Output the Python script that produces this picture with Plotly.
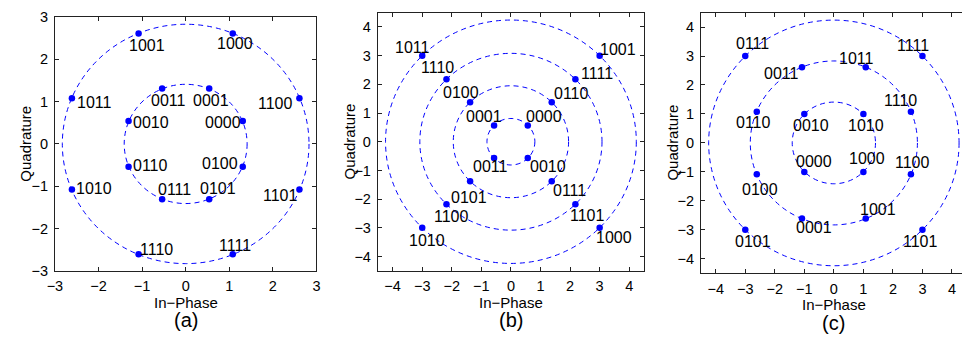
import plotly.graph_objects as go

W, H = 966, 342

# ---------------- data ----------------
# panel (a)
a_labels = ["1001", "1000", "1011", "1100", "0011", "0001", "0010", "0000",
            "0110", "0100", "1010", "1101", "0111", "0101", "1110", "1111"]
a_x = [-1.08, 1.08, -2.61, 2.61, -0.54, 0.54, -1.31, 1.31,
       -1.31, 1.31, -2.61, 2.61, -0.54, 0.54, -1.08, 1.08]
a_y = [2.61, 2.61, 1.08, 1.08, 1.31, 1.31, 0.54, 0.54,
       -0.54, -0.54, -1.08, -1.08, -1.31, -1.31, -2.61, -2.61]
a_radii = [1.41, 2.83]
a_ticks = [-3, -2, -1, 0, 1, 2, 3]

# panel (b)
b_labels = ["1011", "1001", "1110", "1111", "0100", "0110", "0001", "0000",
            "0011", "0010", "0101", "0111", "1100", "1101", "1010", "1000"]
b_x = [-3.0, 3.0, -2.18, 2.18, -1.38, 1.38, -0.57, 0.57,
       -0.57, 0.57, -1.38, 1.38, -2.18, 2.18, -3.0, 3.0]
b_y = [3.0, 3.0, 2.18, 2.18, 1.38, 1.38, 0.57, 0.57,
       -0.57, -0.57, -1.38, -1.38, -2.18, -2.18, -3.0, -3.0]
b_radii = [0.81, 1.95, 3.08, 4.24]
b_ticks = [-4, -3, -2, -1, 0, 1, 2, 3, 4]

# panel (c)
c_labels = ["0111", "1111", "0011", "1011", "0110", "1110", "0010", "1010",
            "0000", "1000", "1100", "0100", "0001", "1001", "0101", "1101"]
c_x = [-3.0, 3.0, -1.08, 1.08, -2.61, 2.61, -1.0, 1.0,
       -1.0, 1.0, 2.61, -2.61, -1.08, 1.08, -3.0, 3.0]
c_y = [3.0, 3.0, 2.61, 2.61, 1.08, 1.08, 1.0, 1.0,
       -1.0, -1.0, -1.08, -1.08, -2.61, -2.61, -3.0, -3.0]
c_radii = [1.41, 2.83, 4.24]
c_ticks = [-4, -3, -2, -1, 0, 1, 2, 3, 4]

# ---------------- styling: label pixel offsets (dx right, dy down) ----------------
a_off = [(8, 11.7), (2.3, 9.7), (22.3, 4.3), (-23.7, 5), (6.7, 12.3), (2, 12.3),
         (22.3, 1.7), (-19.3, 1.7), (22.3, -1), (-22.3, -3.3), (22.3, -1),
         (-18.7, 5.7), (12.7, -9.7), (8.7, -11), (18, -4.7), (2.3, -8.7)]
b_off = [(-10, -8), (18.3, -6.3), (-9, -11.3), (21.7, -5.3), (-9.3, -9.7),
         (19.3, -8.3), (-9.7, -9.3), (16.7, -9), (-4, 8), (20, 8), (-1, 15.7),
         (18, 9), (5.3, 12.3), (12.3, 10.7), (4.7, 12.3), (14.3, 9.7)]
c_off = [(7.7, -12.3), (-9.7, -10.7), (-20, 6), (-9.7, -9.3), (-3.3, 10.7),
         (-10.7, -11), (6.7, 11.7), (2.7, 11.7), (9.7, -10), (3.7, -13.3),
         (1.3, -11.3), (3, 15.3), (11.7, 9.3), (12.3, -9), (7.7, 12), (-2.3, 12)]

FONT = "Liberation Sans, Arial, Helvetica, sans-serif"
BLUE = "#0000ff"

# pixel boxes of the axes: (left, right, top, bottom)
boxes = [(47.5, 312.3, 9.5, 275.7), (374.5, 644.0, 4.8, 275.8), (701.7, 966.0, 4.8, 278.3)]
xranges = [[-3, 3], [-4.5, 4.5], [-4.5, -4.5 + (966.0 - 701.7) / 29.9]]
yranges = [[-3, 3], [-4.5, 4.5], [-4.5, 4.5]]
# pixel rows of the "In-Phase" title and the panel tag
title_rows = [(309, 327.5), (309, 327.5), (311, 330.5)]
panels = [
    (a_labels, a_x, a_y, a_radii, a_ticks, a_off, "(a)", 18),
    (b_labels, b_x, b_y, b_radii, b_ticks, b_off, "(b)", 346),
    (c_labels, c_x, c_y, c_radii, c_ticks, c_off, "(c)", 673),
]

fig = go.Figure()
annotations = []
shapes = []
layout_axes = {}

for i, (labels, xs, ys, radii, ticks, offs, tag, qx) in enumerate(panels):
    n = "" if i == 0 else str(i + 1)
    xa, ya = "x" + n, "y" + n
    L, R, T, B = boxes[i]
    xdom = [L / W, min(R / W, 1.0)]
    ydom = [1 - B / H, 1 - T / H]

    fig.add_trace(go.Scatter(
        x=xs, y=ys, mode="markers", xaxis=xa, yaxis=ya,
        marker=dict(color=BLUE, size=6.5, line=dict(width=0)),
        hoverinfo="skip", showlegend=False,
    ))

    for r in radii:
        shapes.append(dict(
            type="circle", xref=xa, yref=ya, x0=-r, x1=r, y0=-r, y1=r,
            line=dict(color=BLUE, width=1, dash="5px,4px"), layer="below",
        ))

    for lab, x, y, (dx, dy) in zip(labels, xs, ys, offs):
        annotations.append(dict(
            x=x, y=y, xref=xa, yref=ya, text=lab, showarrow=False,
            xshift=dx, yshift=-dy, xanchor="center", yanchor="middle",
            font=dict(family=FONT, size=16, color="black"),
        ))

    t_row, g_row = title_rows[i]
    annotations.append(dict(
        x=0, y=1 - t_row / H, xref=xa, yref="paper", text="In\u2212Phase",
        showarrow=False, xanchor="center", yanchor="middle",
        font=dict(family=FONT, size=15, color="black"),
    ))
    annotations.append(dict(
        x=0, y=1 - g_row / H, xref=xa, yref="paper", text=tag,
        showarrow=False, xanchor="center", yanchor="middle",
        font=dict(family=FONT, size=20, color="black"),
    ))
    annotations.append(dict(
        x=qx / W, y=(ydom[0] + ydom[1]) / 2, xref="paper", yref="paper",
        text="Quadrature", textangle=-90, showarrow=False,
        xanchor="center", yanchor="middle",
        font=dict(family=FONT, size=15, color="black"),
    ))

    axis_common = dict(
        tickmode="array", tickvals=ticks, ticks="inside", ticklen=4,
        tickcolor="#222", tickwidth=1, showgrid=False, zeroline=False,
        showline=True, linecolor="#222", linewidth=1,
        tickfont=dict(family=FONT, size=14.5, color="black"),
        fixedrange=True,
    )
    layout_axes["xaxis" + n] = dict(
        axis_common, domain=xdom, range=xranges[i], anchor=ya,
        mirror="ticks", ticklabelstandoff=2,
    )
    layout_axes["yaxis" + n] = dict(
        axis_common, domain=ydom, range=yranges[i], anchor=xa,
        mirror="ticks" if i < 2 else False, ticklabelstandoff=3,
    )

fig.update_layout(
    width=W, height=H, margin=dict(l=0, r=0, t=0, b=0),
    paper_bgcolor="white", plot_bgcolor="white",
    annotations=annotations, shapes=shapes, showlegend=False,
    **layout_axes,
)

fig.write_html("out.html")
